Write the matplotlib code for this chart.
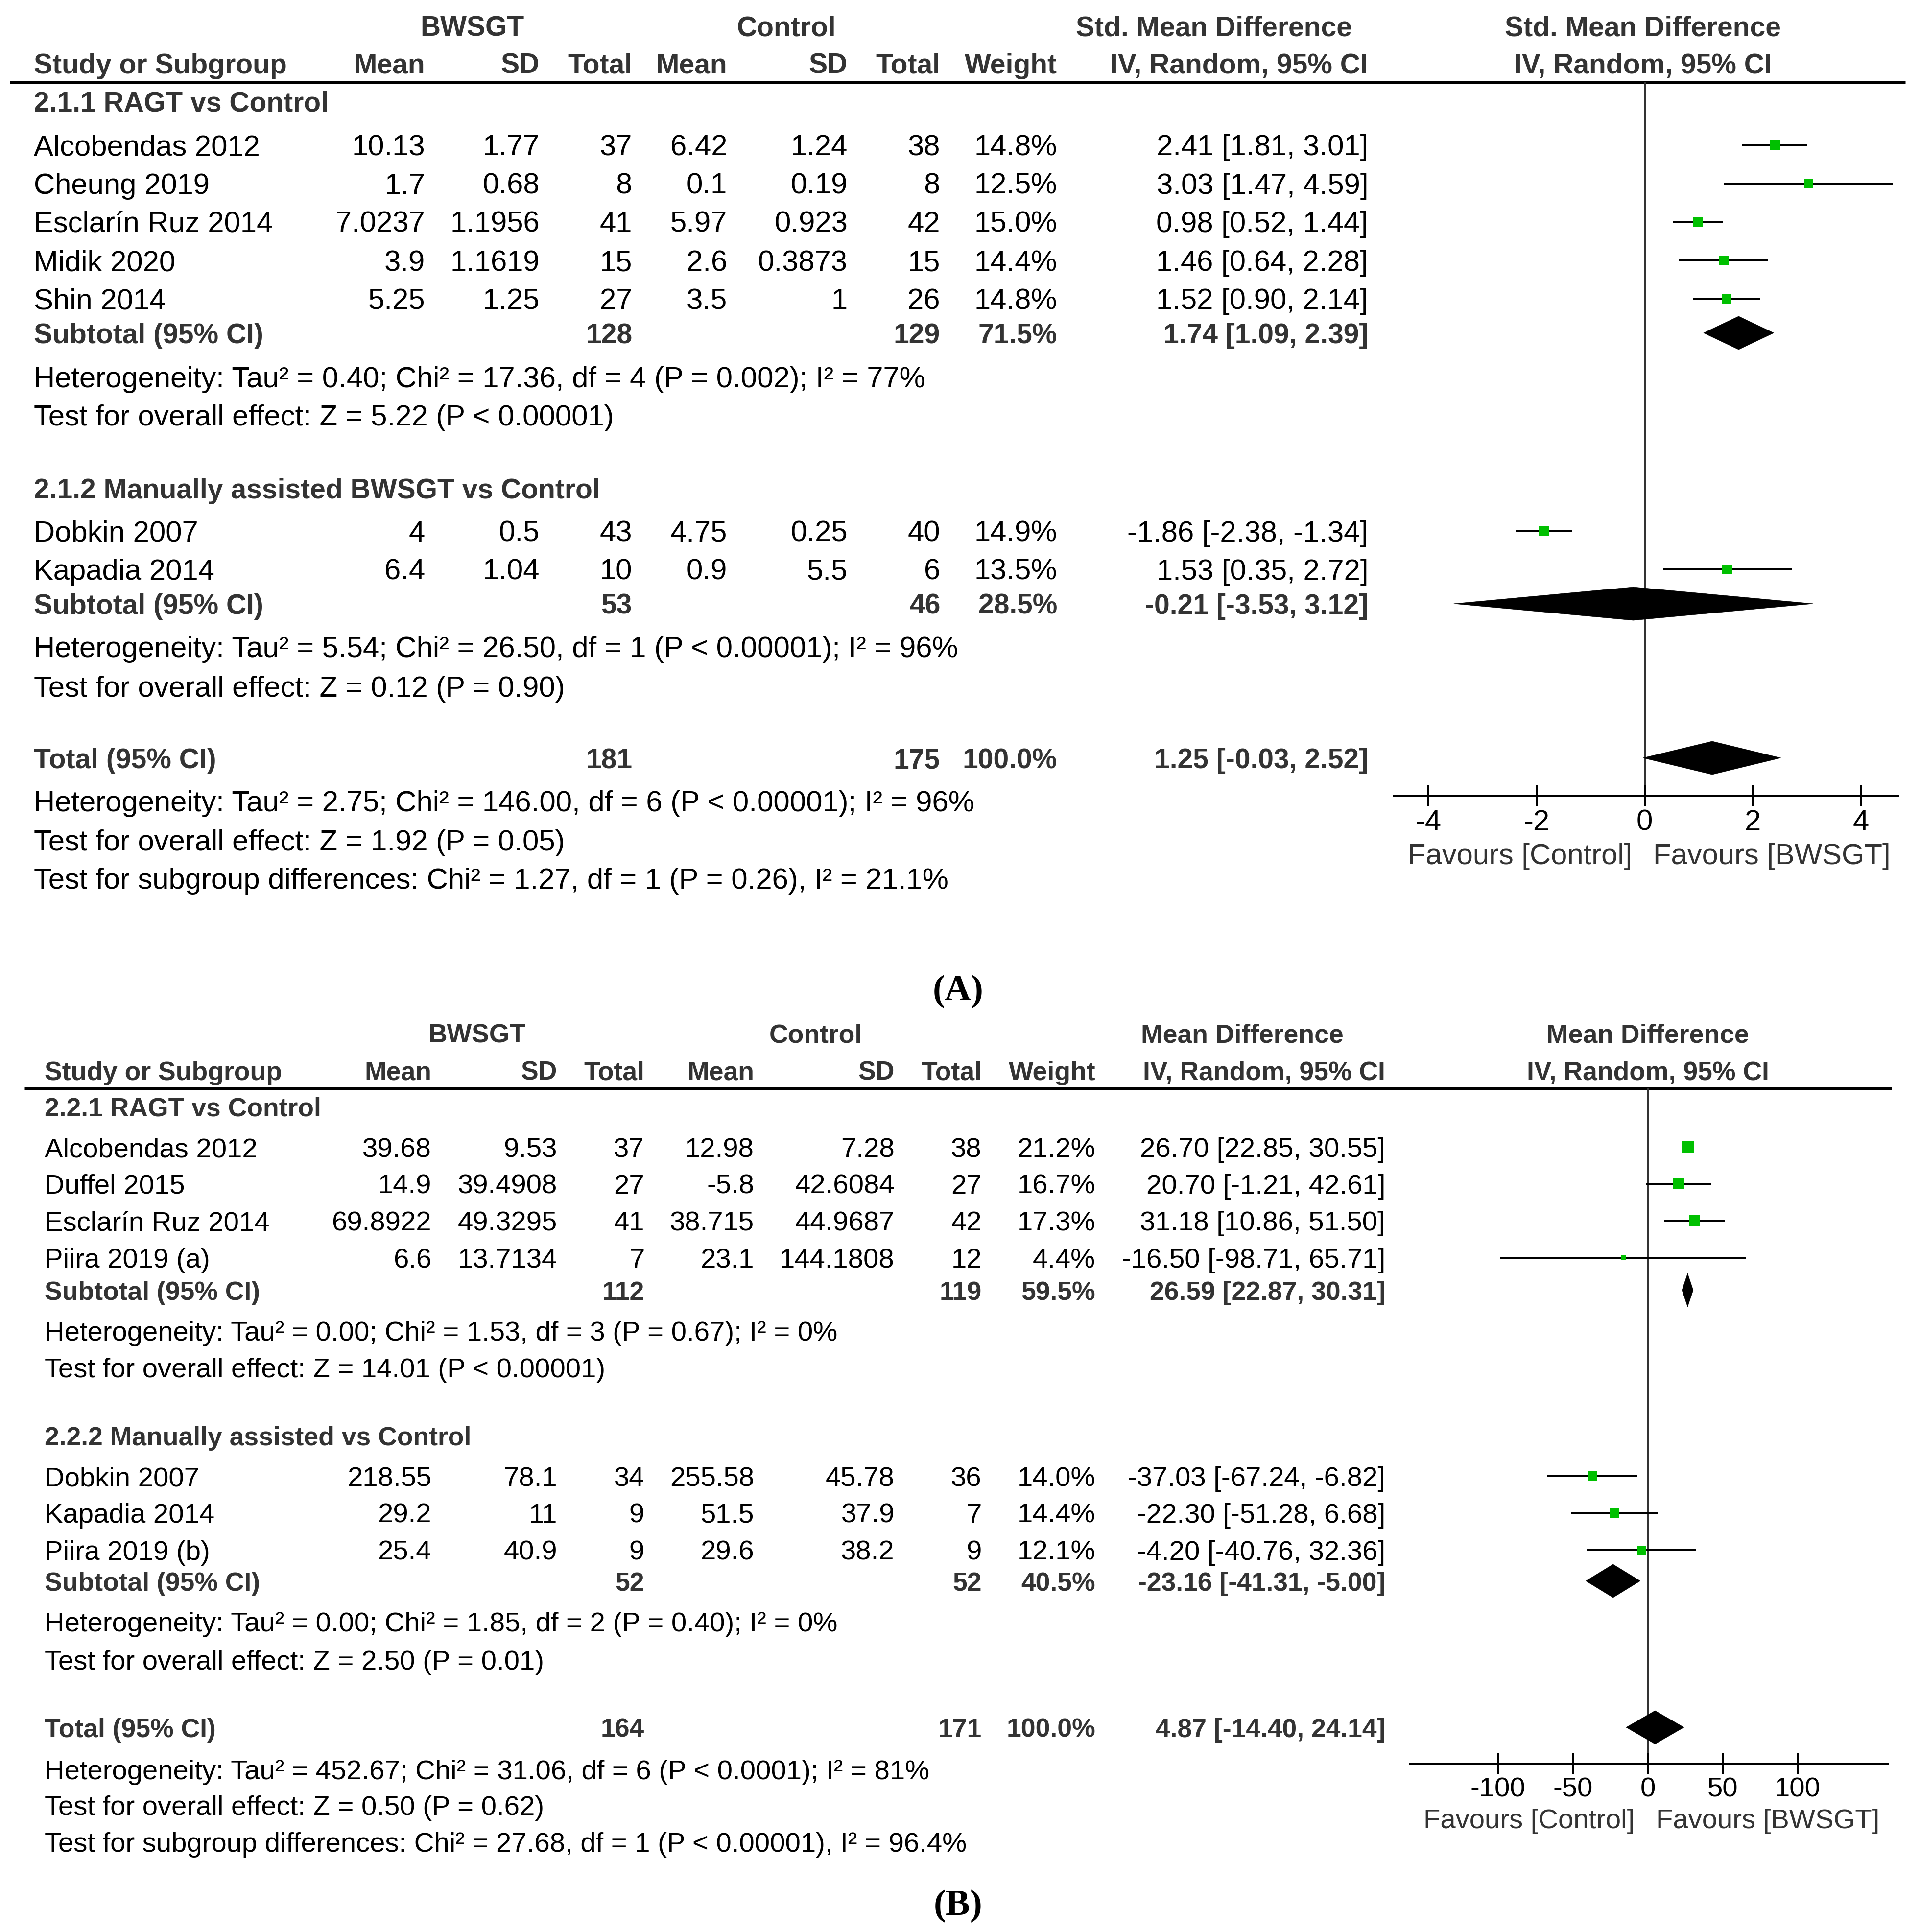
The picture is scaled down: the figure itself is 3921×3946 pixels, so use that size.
import matplotlib
matplotlib.use("Agg")
from matplotlib import pyplot as plt
from matplotlib.patches import Polygon

W, H = 3921, 3946
PX = 72 / 100  # points per pixel at dpi 100

# ---------------- panel A: Std. Mean Difference ----------------
a1_title = "2.1.1 RAGT vs Control"
a1_study = ["Alcobendas 2012", "Cheung 2019", "Esclarín Ruz 2014", "Midik 2020", "Shin 2014"]
a1_mean_e = [10.13, 1.7, 7.0237, 3.9, 5.25]
a1_sd_e = [1.77, 0.68, 1.1956, 1.1619, 1.25]
a1_n_e = [37, 8, 41, 15, 27]
a1_mean_c = [6.42, 0.1, 5.97, 2.6, 3.5]
a1_sd_c = [1.24, 0.19, 0.923, 0.3873, 1]
a1_n_c = [38, 8, 42, 15, 26]
a1_weight = [14.8, 12.5, 15.0, 14.4, 14.8]
a1_est = [2.41, 3.03, 0.98, 1.46, 1.52]
a1_lo = [1.81, 1.47, 0.52, 0.64, 0.90]
a1_hi = [3.01, 4.59, 1.44, 2.28, 2.14]
a1_sub = [128, 129, 71.5, 1.74, 1.09, 2.39]  # n_e, n_c, weight, est, lo, hi
a1_notes = ["Heterogeneity: Tau² = 0.40; Chi² = 17.36, df = 4 (P = 0.002); I² = 77%",
            "Test for overall effect: Z = 5.22 (P < 0.00001)"]

a2_title = "2.1.2 Manually assisted BWSGT vs Control"
a2_study = ["Dobkin 2007", "Kapadia 2014"]
a2_mean_e = [4, 6.4]
a2_sd_e = [0.5, 1.04]
a2_n_e = [43, 10]
a2_mean_c = [4.75, 0.9]
a2_sd_c = [0.25, 5.5]
a2_n_c = [40, 6]
a2_weight = [14.9, 13.5]
a2_est = [-1.86, 1.53]
a2_lo = [-2.38, 0.35]
a2_hi = [-1.34, 2.72]
a2_sub = [53, 46, 28.5, -0.21, -3.53, 3.12]
a2_notes = ["Heterogeneity: Tau² = 5.54; Chi² = 26.50, df = 1 (P < 0.00001); I² = 96%",
            "Test for overall effect: Z = 0.12 (P = 0.90)"]

a_total = [181, 175, 100.0, 1.25, -0.03, 2.52]
a_notes = ["Heterogeneity: Tau² = 2.75; Chi² = 146.00, df = 6 (P < 0.00001); I² = 96%",
           "Test for overall effect: Z = 1.92 (P = 0.05)",
           "Test for subgroup differences: Chi² = 1.27, df = 1 (P = 0.26), I² = 21.1%"]
a_effect = "Std. Mean Difference"
a_ticks = [-4, -2, 0, 2, 4]

# ---------------- panel B: Mean Difference ----------------
b1_title = "2.2.1 RAGT vs Control"
b1_study = ["Alcobendas 2012", "Duffel 2015", "Esclarín Ruz 2014", "Piira 2019 (a)"]
b1_mean_e = [39.68, 14.9, 69.8922, 6.6]
b1_sd_e = [9.53, 39.4908, 49.3295, 13.7134]
b1_n_e = [37, 27, 41, 7]
b1_mean_c = [12.98, -5.8, 38.715, 23.1]
b1_sd_c = [7.28, 42.6084, 44.9687, 144.1808]
b1_n_c = [38, 27, 42, 12]
b1_weight = [21.2, 16.7, 17.3, 4.4]
b1_est = [26.70, 20.70, 31.18, -16.50]
b1_lo = [22.85, -1.21, 10.86, -98.71]
b1_hi = [30.55, 42.61, 51.50, 65.71]
b1_sub = [112, 119, 59.5, 26.59, 22.87, 30.31]
b1_notes = ["Heterogeneity: Tau² = 0.00; Chi² = 1.53, df = 3 (P = 0.67); I² = 0%",
            "Test for overall effect: Z = 14.01 (P < 0.00001)"]

b2_title = "2.2.2 Manually assisted vs Control"
b2_study = ["Dobkin 2007", "Kapadia 2014", "Piira 2019 (b)"]
b2_mean_e = [218.55, 29.2, 25.4]
b2_sd_e = [78.1, 11, 40.9]
b2_n_e = [34, 9, 9]
b2_mean_c = [255.58, 51.5, 29.6]
b2_sd_c = [45.78, 37.9, 38.2]
b2_n_c = [36, 7, 9]
b2_weight = [14.0, 14.4, 12.1]
b2_est = [-37.03, -22.30, -4.20]
b2_lo = [-67.24, -51.28, -40.76]
b2_hi = [-6.82, 6.68, 32.36]
b2_sub = [52, 52, 40.5, -23.16, -41.31, -5.00]
b2_notes = ["Heterogeneity: Tau² = 0.00; Chi² = 1.85, df = 2 (P = 0.40); I² = 0%",
            "Test for overall effect: Z = 2.50 (P = 0.01)"]

b_total = [164, 171, 100.0, 4.87, -14.40, 24.14]
b_notes = ["Heterogeneity: Tau² = 452.67; Chi² = 31.06, df = 6 (P < 0.0001); I² = 81%",
           "Test for overall effect: Z = 0.50 (P = 0.62)",
           "Test for subgroup differences: Chi² = 27.68, df = 1 (P < 0.00001), I² = 96.4%"]
b_effect = "Mean Difference"
b_ticks = [-100, -50, 0, 50, 100]

col_heads = ["Mean", "SD", "Total", "Mean", "SD", "Total", "Weight", "IV, Random, 95% CI"]
favours = ["Favours [Control]", "Favours [BWSGT]"]

# ---------------- layout (pixels) ----------------
lay_a = dict(hdr1=52, hdr2=129, rule=168, rule_x=(20, 3891),
             titles=[207, 997], rows=[[296, 375, 453, 532, 610], [1085, 1163]],
             subs=[680, 1233], notes=[[770, 848], [1321, 1402]],
             total=1548, total_notes=[1636, 1716, 1794],
             study_x=69, cols=[868, 1102, 1291, 1485, 1731, 1920, 2159, 2794],
             grp_x=[964, 1606, 2479, 3355],
             forest=(2847, 3876, 1625), xlim=(-4.633, 4.687),
             fav_y=1744, fav_x=(3104, 3618), label="(A)", label_xy=(1957, 2043),
             fs=43, fsb=41, half_cap=21)
lay_b = dict(hdr1=2109, hdr2=2186, rule=2223, rule_x=(50, 3863),
             titles=[2260, 2932], rows=[[2343, 2418, 2493, 2569], [3015, 3090, 3166]],
             subs=[2635, 3229], notes=[[2718, 2793], [3312, 3390]],
             total=3528, total_notes=[3614, 3687, 3762],
             study_x=91, cols=[881, 1138, 1316, 1540, 1827, 2005, 2237, 2829],
             grp_x=[974, 1666, 2537, 3365],
             forest=(2879, 3855, 3602), xlim=(-158.8, 160.1),
             fav_y=3714, fav_x=(3123, 3610), label="(B)", label_xy=(1957, 3911),
             fs=40.5, fsb=38.5, half_cap=20)

DARK = "#333333"
GREEN = "#00c000"

plt.rcParams['font.family'] = ['Liberation Sans', 'DejaVu Sans']

fig = plt.figure(figsize=(W / 100, H / 100), dpi=100)
ax0 = fig.add_axes([0, 0, 1, 1])
ax0.set_xlim(0, W)
ax0.set_ylim(H, 0)
ax0.axis("off")


def fmt(v):
    return f"{v:.10g}"


def ci_text(est, lo, hi):
    return f"{est:.2f} [{lo:.2f}, {hi:.2f}]"


def draw_panel(lay, groups, total, total_notes, effect, ticks):
    cols = lay["cols"]

    def put(x, y, s, ha="right", bold=False, color="black"):
        ax0.text(x, y + lay["half_cap"], s, ha=ha, va="baseline",
                 fontsize=lay["fsb"] if bold else lay["fs"],
                 fontweight="bold" if bold else "normal", color=DARK if bold else color)

    # headers
    put(lay["grp_x"][0], lay["hdr1"], "BWSGT", ha="center", bold=True)
    put(lay["grp_x"][1], lay["hdr1"], "Control", ha="center", bold=True)
    put(lay["grp_x"][2], lay["hdr1"], effect, ha="center", bold=True)
    put(lay["grp_x"][3], lay["hdr1"], effect, ha="center", bold=True)
    put(lay["study_x"], lay["hdr2"], "Study or Subgroup", ha="left", bold=True)
    for x, s in zip(cols, col_heads):
        put(x, lay["hdr2"], s, bold=True)
    put(lay["grp_x"][3], lay["hdr2"], col_heads[-1], ha="center", bold=True)
    ax0.plot(lay["rule_x"], [lay["rule"]] * 2, color="black", lw=5 * PX, solid_capstyle="butt")

    # forest axes
    x0, x1, yb = lay["forest"]
    yt = lay["rule"]
    ax = fig.add_axes([x0 / W, 1 - yb / H, (x1 - x0) / W, (yb - yt) / H])
    ax.patch.set_alpha(0)
    ax.set_xlim(*lay["xlim"])
    ax.set_ylim(yb, yt)
    for s in ["top", "left", "right"]:
        ax.spines[s].set_visible(False)
    ax.spines["bottom"].set_linewidth(4 * PX)
    ax.set_yticks([])
    ax.set_xticks(ticks)
    ax.set_xticklabels([fmt(t) for t in ticks])
    ax.tick_params(axis="x", direction="inout", length=44 * PX, width=4 * PX,
                   pad=4, labelsize=lay["fs"], colors="black")
    ax.axvline(0, color=DARK, lw=4 * PX, zorder=1)

    def diamond(y, est, lo, hi):
        ax.add_patch(Polygon([(lo, y), (est, y - 34), (hi, y), (est, y + 34)],
                             closed=True, fc="black", ec="black", lw=0.5, zorder=3))

    for gi, g in enumerate(groups):
        put(lay["study_x"], lay["titles"][gi], g["title"], ha="left", bold=True)
        for ri, y in enumerate(lay["rows"][gi]):
            put(lay["study_x"], y, g["study"][ri], ha="left")
            vals = [fmt(g["mean_e"][ri]), fmt(g["sd_e"][ri]), fmt(g["n_e"][ri]),
                    fmt(g["mean_c"][ri]), fmt(g["sd_c"][ri]), fmt(g["n_c"][ri]),
                    f"{g['weight'][ri]:.1f}%",
                    ci_text(g["est"][ri], g["lo"][ri], g["hi"][ri])]
            for x, s in zip(cols, vals):
                put(x, y, s)
            ax.plot([g["lo"][ri], g["hi"][ri]], [y, y], color="black", lw=4 * PX,
                    solid_capstyle="butt", zorder=2, clip_on=False)
            side = 5.2 * g["weight"][ri] ** 0.5
            ax.plot([g["est"][ri]], [y], marker="s", ms=side * PX, color=GREEN,
                    mew=0, zorder=4, clip_on=False)
        ys = lay["subs"][gi]
        n_e, n_c, w, est, lo, hi = g["sub"]
        put(lay["study_x"], ys, "Subtotal (95% CI)", ha="left", bold=True)
        put(cols[2], ys, fmt(n_e), bold=True)
        put(cols[5], ys, fmt(n_c), bold=True)
        put(cols[6], ys, f"{w:.1f}%", bold=True)
        put(cols[7], ys, ci_text(est, lo, hi), bold=True)
        diamond(ys, est, lo, hi)
        for y, s in zip(lay["notes"][gi], g["notes"]):
            put(lay["study_x"], y, s, ha="left")

    n_e, n_c, w, est, lo, hi = total
    yt_ = lay["total"]
    put(lay["study_x"], yt_, "Total (95% CI)", ha="left", bold=True)
    put(cols[2], yt_, fmt(n_e), bold=True)
    put(cols[5], yt_, fmt(n_c), bold=True)
    put(cols[6], yt_, f"{w:.1f}%", bold=True)
    put(cols[7], yt_, ci_text(est, lo, hi), bold=True)
    diamond(yt_, est, lo, hi)
    for y, s in zip(lay["total_notes"], total_notes):
        put(lay["study_x"], y, s, ha="left")

    put(lay["fav_x"][0], lay["fav_y"], favours[0], ha="center", color=DARK)
    put(lay["fav_x"][1], lay["fav_y"], favours[1], ha="center", color=DARK)
    ax0.text(lay["label_xy"][0], lay["label_xy"][1], lay["label"], ha="center",
             va="baseline", fontsize=54, fontweight="bold", family="Liberation Serif")


def group(title, study, mean_e, sd_e, n_e, mean_c, sd_c, n_c, weight, est, lo, hi, sub, notes):
    return dict(title=title, study=study, mean_e=mean_e, sd_e=sd_e, n_e=n_e, mean_c=mean_c,
                sd_c=sd_c, n_c=n_c, weight=weight, est=est, lo=lo, hi=hi, sub=sub, notes=notes)


groups_a = [group(a1_title, a1_study, a1_mean_e, a1_sd_e, a1_n_e, a1_mean_c, a1_sd_c, a1_n_c,
                  a1_weight, a1_est, a1_lo, a1_hi, a1_sub, a1_notes),
            group(a2_title, a2_study, a2_mean_e, a2_sd_e, a2_n_e, a2_mean_c, a2_sd_c, a2_n_c,
                  a2_weight, a2_est, a2_lo, a2_hi, a2_sub, a2_notes)]
groups_b = [group(b1_title, b1_study, b1_mean_e, b1_sd_e, b1_n_e, b1_mean_c, b1_sd_c, b1_n_c,
                  b1_weight, b1_est, b1_lo, b1_hi, b1_sub, b1_notes),
            group(b2_title, b2_study, b2_mean_e, b2_sd_e, b2_n_e, b2_mean_c, b2_sd_c, b2_n_c,
                  b2_weight, b2_est, b2_lo, b2_hi, b2_sub, b2_notes)]

draw_panel(lay_a, groups_a, a_total, a_notes, a_effect, a_ticks)
draw_panel(lay_b, groups_b, b_total, b_notes, b_effect, b_ticks)

fig.savefig("out.png", dpi=100, facecolor="white")
